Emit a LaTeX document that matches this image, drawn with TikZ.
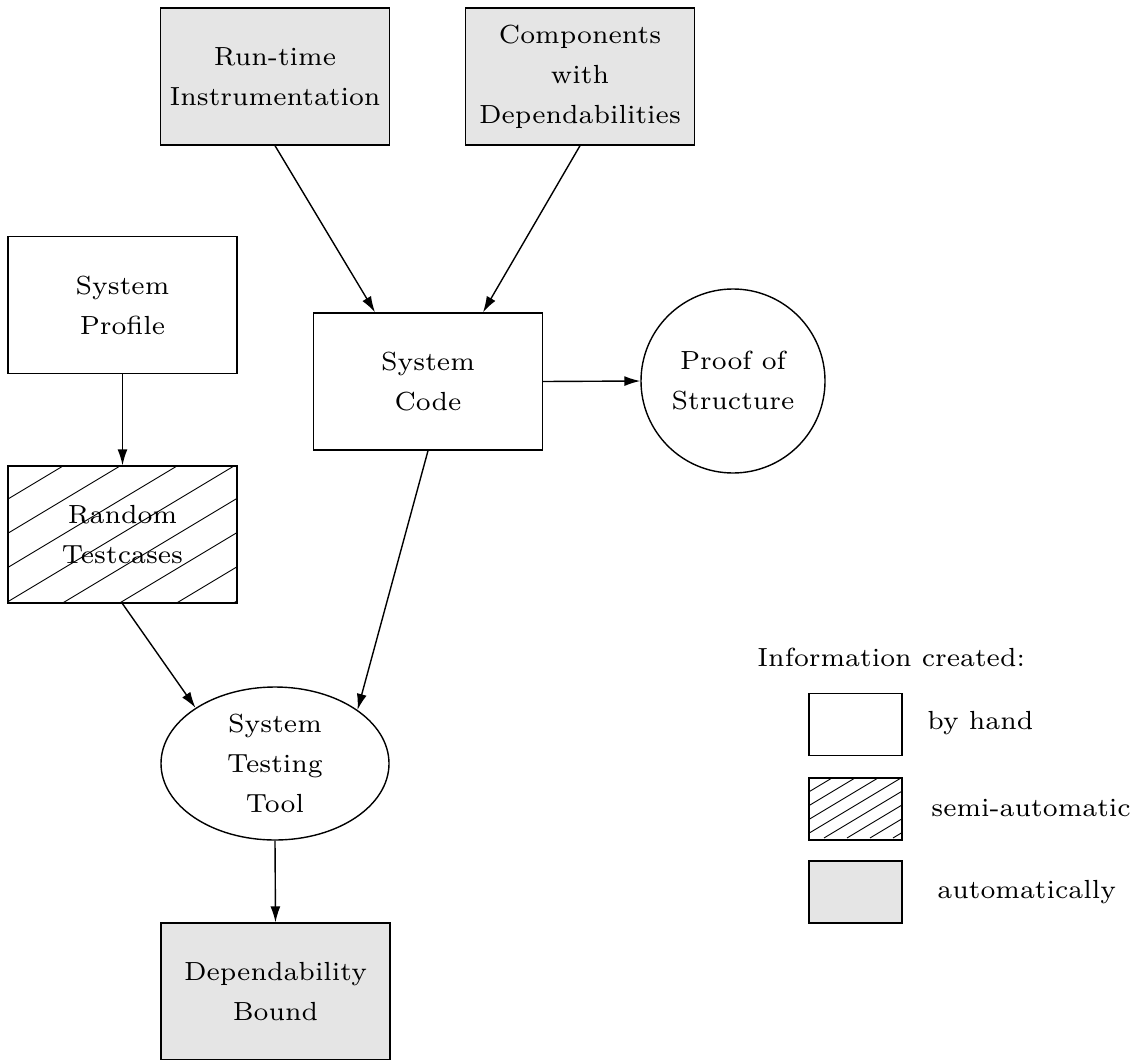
\documentclass[tikz,border=0pt]{standalone}
\usepackage{fontspec}
\setmainfont{lmroman7-regular.otf}
\usetikzlibrary{arrows.meta,shapes.geometric}
\begin{document}
\begin{tikzpicture}[x=0.5pt,y=-0.5pt,
  every node/.style={font=\fontsize{13.1}{20}\selectfont, align=center, inner sep=0pt},
  rbox/.style={draw, line width=0.7pt, minimum width=114.5pt, minimum height=68.5pt},
  autobox/.style={rbox, fill=black!10},
  legbox/.style={draw, line width=0.7pt, minimum width=46.5pt, minimum height=31pt},
  conn/.style={line width=0.7pt, -{Latex[length=8pt,width=5pt]}},
  hatchline/.style={line width=0.45pt}]
\useasboundingbox (0,0) rectangle (1133,1059);
% main nodes
\node[autobox] (rt) at (275,76.5) {Run-time\\Instrumentation};
\node[autobox] (comp) at (580,76.5) {Components\\with\\Dependabilities};
\node[rbox] (sp) at (122.5,305) {System\\Profile};
\node[rbox] (sc) at (428,381.5) {System\\Code};
\node[draw, circle, line width=0.7pt, minimum size=92pt] (pos) at (733,381) {Proof of\\Structure};
\node[rbox] (rnd) at (122.5,534.5) {Random\\Testcases};
\begin{scope}
  \clip (rnd.south west) rectangle (rnd.north east);
  \foreach \k in {-1,...,8}
    \draw[hatchline] ({63+57*\k-300},{466+180}) -- ({63+57*\k+300},{466-180});
\end{scope}
\node[draw, ellipse, line width=0.7pt, minimum width=114pt, minimum height=76.5pt] (stt) at (275,763.5) {System\\Testing\\Tool};
\node[autobox] (db) at (275.5,991.5) {Dependability\\Bound};
% connectors
\draw[conn] (rt.south) -- ([xshift=-26.5pt]sc.north);
\draw[conn] (comp.south) -- ([xshift=27.5pt]sc.north);
\draw[conn] (sp.south) -- (rnd.north);
\draw[conn] (sc.east) -- (pos.west);
\draw[conn] (rnd.south) -- (stt.145);
\draw[conn] (sc.south) -- (stt.33);
\draw[conn] (stt.south) -- (db.north);
% legend
\node[anchor=west] (info) at (757,657) {Information created:};
\node[legbox] (lhand) at (855.5,724.5) {};
\node[anchor=west] (thand) at (927,723) {by hand};
\node[legbox] (lsemi) at (855.5,809) {};
\begin{scope}
  \clip (lsemi.south west) rectangle (lsemi.north east);
  \foreach \k in {-1,...,8}
    \draw[hatchline] ({832+23*\k-100},{778+60}) -- ({832+23*\k+100},{778-60});
\end{scope}
\node[anchor=west] (tsemi) at (931,808) {semi-automatic};
\node[legbox, fill=black!10] (lauto) at (855.5,892) {};
\node[anchor=west] (tauto) at (937,892) {automatically};
\end{tikzpicture}
\end{document}
